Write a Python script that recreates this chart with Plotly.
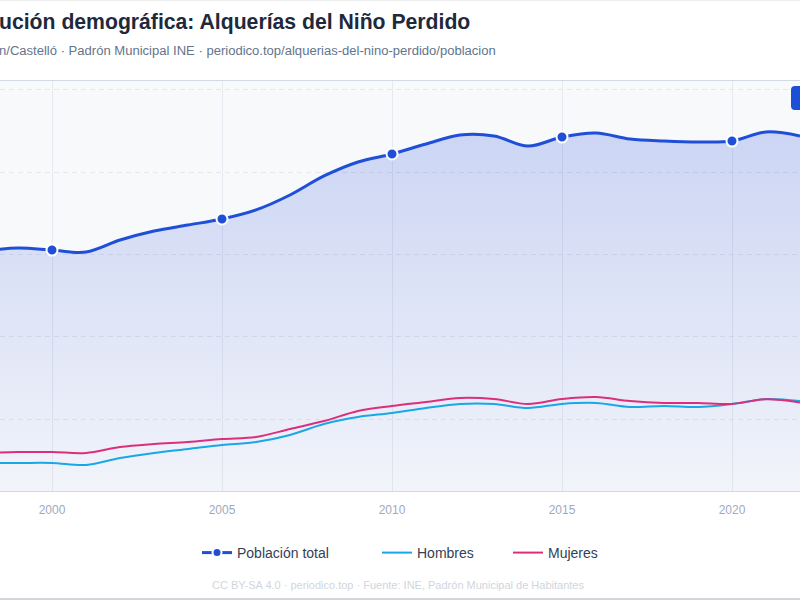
import plotly.graph_objects as go

# ---- data ----
years = list(range(1998, 2023))
total = [3529, 3554, 3537, 3520, 3622, 3699, 3750, 3801, 3878, 4005, 4167, 4286, 4354,
         4439, 4515, 4507, 4422, 4498, 4532, 4481, 4464, 4456, 4464, 4541, 4507]
hombres = [1726, 1726, 1726, 1709, 1768, 1811, 1845, 1879, 1904, 1964, 2057, 2117, 2151,
           2194, 2228, 2228, 2194, 2228, 2236, 2202, 2211, 2202, 2228, 2270, 2253]
mujeres = [1811, 1819, 1819, 1811, 1862, 1887, 1904, 1930, 1947, 2015, 2083, 2168, 2211,
           2245, 2279, 2270, 2228, 2270, 2287, 2253, 2236, 2236, 2228, 2268, 2240]
tick_years = [2000, 2005, 2010, 2015, 2020]

# visible parts of the (cropped) title and subtitle
title_text = "ución demográfica: Alquerías del Niño Perdido"
subtitle_text = ("n/Castelló · Padrón Municipal INE · "
                 "periodico.top/alquerias-del-nino-perdido/poblacion")
footer_text = "CC BY-SA 4.0 · periodico.top · Fuente: INE, Padrón Municipal de Habitantes"

BLUE = "#1f4fd6"
SKY = "#1aa7e6"
PINK = "#db2f7c"
FONT = "Liberation Sans, Arial, sans-serif"

W, H = 800, 600
ML, MR, MT, MB = 0, 0, 81, 109
PH = H - MT - MB

x_range = [2000 - 52 / 34, 2000 - 52 / 34 + 800 / 34]
y_range = [1487.6, 4974.7]

def py(pix):
    """pixel row -> paper y"""
    return (H - MB - pix) / PH

def px(pix):
    return pix / W

fig = go.Figure()

fig.add_trace(go.Scatter(
    x=years, y=total, mode="lines", name="Población total", showlegend=False,
    line=dict(color=BLUE, width=3, shape="spline", smoothing=1),
    fill="tozeroy",
    fillgradient=dict(type="vertical",
                      colorscale=[[0, "rgba(37,78,216,0.03)"], [1, "rgba(37,78,216,0.21)"]],
                      start=y_range[0], stop=4550),
    hoverinfo="skip"))

fig.add_trace(go.Scatter(
    x=years, y=hombres, mode="lines", name="Hombres", legend="legend2",
    line=dict(color=SKY, width=2, shape="spline", smoothing=1)))

fig.add_trace(go.Scatter(
    x=years, y=mujeres, mode="lines", name="Mujeres", legend="legend3",
    line=dict(color=PINK, width=2, shape="spline", smoothing=1)))

mk_x = [y for y in years if y in tick_years]
mk_y = [t for y, t in zip(years, total) if y in tick_years]
fig.add_trace(go.Scatter(
    x=mk_x, y=mk_y, mode="markers", showlegend=False,
    marker=dict(color=BLUE, size=11, line=dict(color="white", width=2))))

# legend-only entry for the total series
fig.add_trace(go.Scatter(
    x=[None], y=[None], mode="lines+markers", name="Población total", legend="legend",
    line=dict(color=BLUE, width=3),
    marker=dict(color=BLUE, size=9, line=dict(color="white", width=2))))

# rounded button in the top-right corner (partially off-canvas)
bx0, bx1, by0, by1, r = 791, 820, 86, 110, 4
path = (f"M {px(bx0 + r)},{py(by0)} L {px(bx1)},{py(by0)} L {px(bx1)},{py(by1)} "
        f"L {px(bx0 + r)},{py(by1)} Q {px(bx0)},{py(by1)} {px(bx0)},{py(by1 - r)} "
        f"L {px(bx0)},{py(by0 + r)} Q {px(bx0)},{py(by0)} {px(bx0 + r)},{py(by0)} Z")

def leg(xpix):
    return dict(orientation="h", x=px(xpix), xanchor="left", y=py(553), yanchor="middle",
                font=dict(size=14, color="#334155"), bgcolor="rgba(0,0,0,0)",
                itemwidth=30)

fig.update_layout(
    width=W, height=H,
    margin=dict(l=ML, r=MR, t=MT, b=MB),
    paper_bgcolor="white", plot_bgcolor="#f8f9fb",
    font=dict(family=FONT, color="#334155"),
    xaxis=dict(range=x_range, tickvals=tick_years, showgrid=True, gridcolor="#e6e9ef",
               gridwidth=1, zeroline=False, showline=True, linecolor="#d3d9e2",
               linewidth=1, mirror=True, ticks="", ticklabelstandoff=8,
               tickfont=dict(size=12, color="#a0aabb")),
    yaxis=dict(range=y_range, tick0=0, dtick=700, showticklabels=False, showgrid=True,
               gridcolor="#e3e7ee", griddash="5px,4px", zeroline=False, showline=False),
    legend=leg(197), legend2=leg(377), legend3=leg(508),
    showlegend=True,
    annotations=[
        dict(text=title_text, xref="paper", yref="paper", x=px(-2), y=py(22),
             xanchor="left", yanchor="middle", showarrow=False, borderpad=0,
             font=dict(size=21.2, color="#1e293b", family=FONT, weight="bold")),
        dict(text=subtitle_text, xref="paper", yref="paper", x=px(-2), y=py(51),
             xanchor="left", yanchor="middle", showarrow=False, borderpad=0,
             font=dict(size=13.05, color="#64748b", family=FONT)),
        dict(text=footer_text, xref="paper", yref="paper", x=0.497, y=py(585),
             xanchor="center", yanchor="middle", showarrow=False,
             font=dict(size=11, color="#cfd6e0", family=FONT)),
    ],
    shapes=[
        dict(type="path", xref="paper", yref="paper", path=path,
             fillcolor="#1d4ed8", line=dict(width=0)),
        dict(type="line", xref="paper", yref="paper", x0=0, x1=1, y0=py(599), y1=py(599),
             line=dict(color="#d1d5db", width=2)),
        dict(type="line", xref="paper", yref="paper", x0=0, x1=1, y0=py(0.5), y1=py(0.5),
             line=dict(color="#eeeeee", width=1)),
    ],
)

fig.write_html("out.html")
